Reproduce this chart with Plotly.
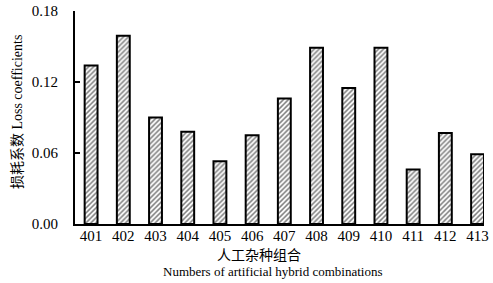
import plotly.graph_objects as go

categories = ["401", "402", "403", "404", "405", "406", "407", "408", "409", "410", "411", "412", "413"]
loss_coefficients = [0.134, 0.159, 0.090, 0.078, 0.053, 0.075, 0.106, 0.149, 0.115, 0.149, 0.046, 0.077, 0.059]
y_ticks = [0.00, 0.06, 0.12, 0.18]
y_tick_labels = ["0.00", "0.06", "0.12", "0.18"]

FONT = "Liberation Serif, Times New Roman, Noto Sans CJK SC, serif"

fig = go.Figure(go.Bar(
    x=list(range(len(categories))),
    y=loss_coefficients,
    marker=dict(
        color="white",
        line=dict(color="black", width=2),
        pattern=dict(shape="/", fgcolor="black", bgcolor="white", size=3.5, solidity=0.45),
    ),
    width=0.4,
))

fig.update_layout(
    width=493, height=283,
    margin=dict(l=75, r=9, t=11, b=59),
    plot_bgcolor="white", paper_bgcolor="white",
    font=dict(family=FONT, size=15, color="black"),
    showlegend=False,
    xaxis=dict(
        range=[-0.5, 12.2],
        tickmode="array",
        tickvals=list(range(len(categories))),
        ticktext=categories,
        showline=True, linecolor="black", linewidth=2,
        ticks="", showgrid=False, zeroline=False,
        tickfont=dict(size=15),
        ticklabelstandoff=-3,
        automargin=False,
    ),
    yaxis=dict(
        range=[0, 0.18],
        tickmode="array",
        tickvals=y_ticks,
        ticktext=y_tick_labels,
        showline=True, linecolor="black", linewidth=2,
        ticks="inside", ticklen=5, tickwidth=2, tickcolor="black",
        showgrid=False, zeroline=False,
        tickfont=dict(size=15),
        ticklabelstandoff=12,
        automargin=False,
    ),
    annotations=[
        dict(text="人工杂种组合", xref="paper", yref="paper", x=0.45, y=-0.142,
             xanchor="center", yanchor="middle", showarrow=False,
             font=dict(family="Noto Sans CJK SC", size=14, color="black")),
        dict(text="Numbers of artificial hybrid combinations", xref="paper", yref="paper",
             x=0.484, y=-0.225, xanchor="center", yanchor="middle", showarrow=False,
             font=dict(family=FONT, size=13, color="black")),
        dict(text="损耗系数 Loss coefficients", xref="paper", yref="paper",
             x=-0.139, y=0.526, xanchor="center", yanchor="middle", showarrow=False,
             textangle=-90,
             font=dict(family="Liberation Serif, Noto Sans CJK SC", size=14, color="black")),
    ],
)

fig.write_html("out.html", config={"displayModeBar": False, "staticPlot": True})

# remove default page margin so the figure sits at the window's top-left corner
with open("out.html", "r", encoding="utf-8") as f:
    html = f.read()
html = html.replace("<head>", "<head><style>html,body{margin:0;padding:0;overflow:hidden;}</style>", 1)
with open("out.html", "w", encoding="utf-8") as f:
    f.write(html)
